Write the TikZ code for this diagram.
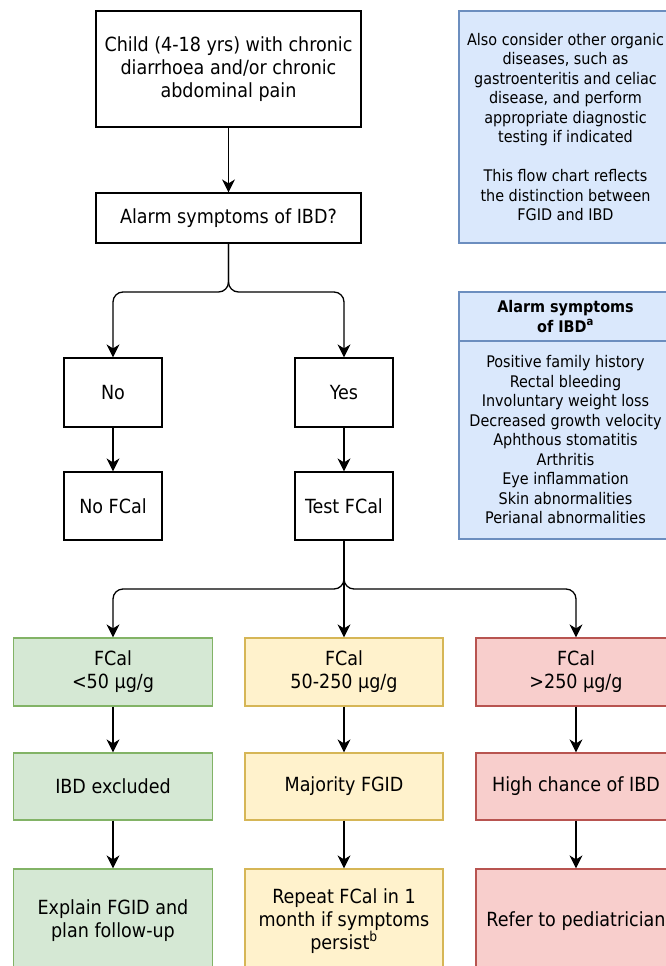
\documentclass[tikz,border=0pt]{standalone}
\usepackage{fontspec}
\setmainfont{DejaVu Sans Condensed}
\usetikzlibrary{arrows.meta}

\definecolor{grnfill}{HTML}{D5E8D4}
\definecolor{grnline}{HTML}{82B366}
\definecolor{yelfill}{HTML}{FFF2CC}
\definecolor{yelline}{HTML}{D6B656}
\definecolor{redfill}{HTML}{F8CECC}
\definecolor{redline}{HTML}{B85450}
\definecolor{blufill}{HTML}{DAE8FC}
\definecolor{bluline}{HTML}{6C8EBF}

\tikzset{
  box/.style={draw, line width=1.2pt, fill=white, align=center, inner sep=2pt,
    font=\fontsize{19.5}{23}\selectfont},
  grnbox/.style={box, fill=grnfill, draw=grnline},
  yelbox/.style={box, fill=yelfill, draw=yelline},
  redbox/.style={box, fill=redfill, draw=redline},
  blubox/.style={box, fill=blufill, draw=bluline, font=\fontsize{16}{19.5}\selectfont},
  arr/.style={line width=1.3pt, -{Stealth[length=13pt,width=13pt,inset=4pt]}},
}

\begin{document}
\begin{tikzpicture}[x=1pt,y=-1pt]
\useasboundingbox (0,0) rectangle (665,966);

\node[box, minimum width=265, minimum height=116] (child) at (228.5,69)
  {Child (4-18 yrs) with chronic\\diarrhoea and/or chronic\\abdominal pain};
\node[box, minimum width=265, minimum height=50] (alarm) at (228.5,218)
  {Alarm symptoms of IBD?};

\node[box, minimum width=98, minimum height=69] (no) at (113,392.5) {No};
\node[box, minimum width=98, minimum height=69] (yes) at (344,392.5) {Yes};
\node[box, minimum width=98, minimum height=68] (nofcal) at (113,506) {No FCal};
\node[box, minimum width=98, minimum height=68] (test) at (344,506) {Test FCal};

\node[grnbox, minimum width=199, minimum height=68] (low) at (113,672) {FCal\\<50 µg/g};
\node[yelbox, minimum width=198, minimum height=68] (mid) at (344,672) {FCal\\50-250 µg/g};
\node[redbox, minimum width=200, minimum height=68] (high) at (576,672) {FCal\\>250 µg/g};

\node[grnbox, minimum width=199, minimum height=67] (excl) at (113,786.5) {IBD excluded};
\node[yelbox, minimum width=198, minimum height=67] (fgid) at (344,786.5) {Majority FGID};
\node[redbox, minimum width=200, minimum height=67] (chance) at (576,786.5) {High chance of IBD};

\node[grnbox, minimum width=199, minimum height=104] (explain) at (113,921)
  {Explain FGID and\\plan follow-up};
\node[yelbox, minimum width=198, minimum height=104] (repeat) at (344,921)
  {Repeat FCal in 1\\month if symptoms\\persist\textsuperscript{b}};
\node[redbox, minimum width=200, minimum height=104] (refer) at (576,921)
  {Refer to pediatrician};

\node[blubox, minimum width=213, minimum height=232] (note) at (565.5,127)
  {Also consider other organic\\diseases, such as\\gastroenteritis and celiac\\disease, and perform\\appropriate diagnostic\\testing if indicated\\[19.5pt]This flow chart reflects\\the distinction between\\FGID and IBD};
\node[blubox, minimum width=213, minimum height=49] (symhead) at (565.5,316.5)
  {\textbf{Alarm symptoms}\\\textbf{of IBD\textsuperscript{a}}};
\node[blubox, minimum width=213, minimum height=198] (symlist) at (565.5,440)
  {Positive family history\\Rectal bleeding\\Involuntary weight loss\\Decreased growth velocity\\Aphthous stomatitis\\Arthritis\\Eye inflammation\\Skin abnormalities\\Perianal abnormalities};

\coordinate (split1) at (228.5,292);
\coordinate (split2) at (344,589);

\draw[arr] (child) -- (alarm);
\draw[arr, rounded corners=10] (alarm.south) -- (split1) -| (no.north);
\draw[arr, rounded corners=10] (alarm.south) -- (split1) -| (yes.north);
\draw[arr] (no) -- (nofcal);
\draw[arr] (yes) -- (test);

\draw[arr, rounded corners=10] (test.south) -- (split2) -| (low.north);
\draw[arr, rounded corners=10] (test.south) -- (split2) -| (high.north);
\draw[arr] (test) -- (mid);

\draw[arr] (low) -- (excl);
\draw[arr] (mid) -- (fgid);
\draw[arr] (high) -- (chance);
\draw[arr] (excl) -- (explain);
\draw[arr] (fgid) -- (repeat);
\draw[arr] (chance) -- (refer);
\end{tikzpicture}
\end{document}
